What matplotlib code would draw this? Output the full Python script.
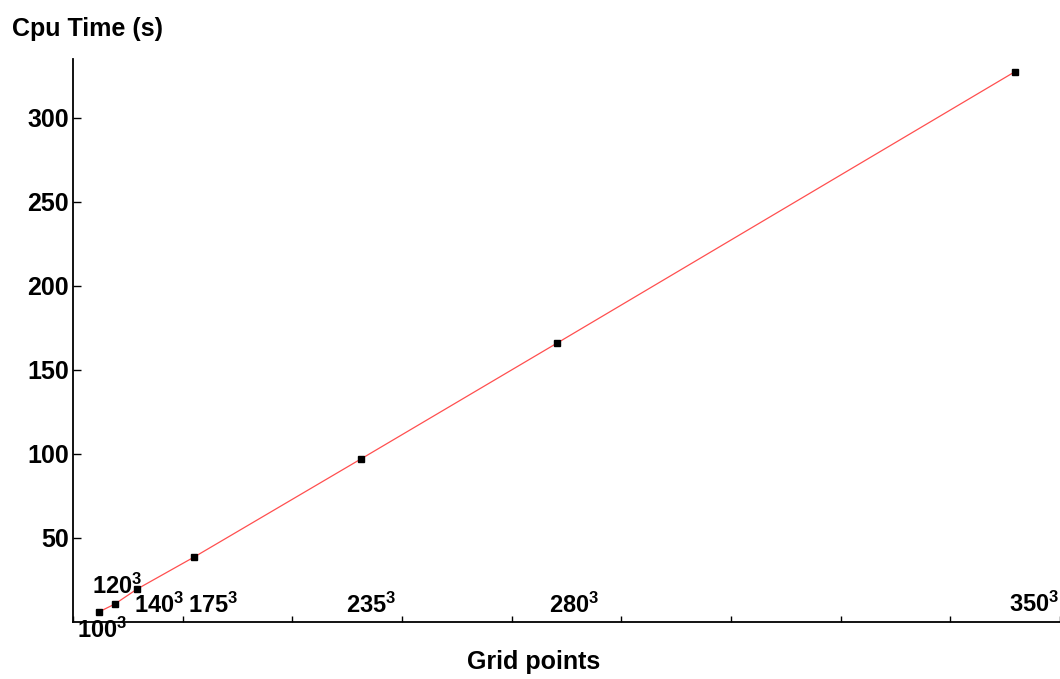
import matplotlib
matplotlib.use('Agg')
import matplotlib.pyplot as plt
import numpy as np

# grid sizes (n per side) and measured cpu time in seconds
grid_n = [100, 120, 140, 175, 235, 280, 350]
cpu_time = [6.0, 10.7, 19.6, 38.7, 97.0, 166.0, 327.4]

# label text offsets from (x, 0) in pixels
label_dx = [-22, -23, -3, -6, -15, -8, -6]
label_dy = [-16, 28, 9, 9, 9, 9, 10]

plt.rcParams['font.family'] = 'Liberation Sans'
plt.rcParams['font.weight'] = 'bold'
plt.rcParams['mathtext.fontset'] = 'custom'
plt.rcParams['mathtext.rm'] = 'Liberation Sans:bold'
plt.rcParams['mathtext.default'] = 'rm'


def main():
    # grid points in millions
    x = np.array(grid_n, dtype=float) ** 3 / 1e6

    fig = plt.figure(figsize=(10.6, 6.79), dpi=100)
    ax = fig.add_axes([73 / 1060, 1 - 622 / 679, 1 - 73 / 1060, (622 - 59) / 679])

    ax.plot(x, cpu_time, color='#ff4f4f', lw=0.9, zorder=2)
    ax.plot(x, cpu_time, 's', color='black', ms=4, zorder=3)

    for xi, n, dx, dy in zip(x, grid_n, label_dx, label_dy):
        ax.annotate(f'{n}$^{{3}}$', xy=(xi, 0), xytext=(dx, dy),
                    textcoords='offset pixels', ha='left', va='baseline',
                    fontsize=17, fontweight='bold', annotation_clip=False)

    # axis scale
    ax.set_xlim(-0.185, 44.80)
    ax.set_ylim(0, 335)
    ax.set_xticks(np.arange(-0.185, 45, 5.014))
    ax.set_xticklabels([])
    ax.set_yticks([50, 100, 150, 200, 250, 300])
    ax.tick_params(axis='y', direction='in', length=6, width=1, labelsize=18, pad=3)
    ax.tick_params(axis='x', direction='in', length=4, width=1)
    for lbl in ax.get_yticklabels():
        lbl.set_fontweight('bold')

    for side in ['top', 'right']:
        ax.spines[side].set_visible(False)
    for side in ['left', 'bottom']:
        ax.spines[side].set_linewidth(1.3)

    fig.text(12 / 1060, 1 - 36 / 679, 'Cpu Time (s)', fontsize=18, fontweight='bold',
             ha='left', va='baseline')
    fig.text(534 / 1060, 1 - 669 / 679, 'Grid points', fontsize=18, fontweight='bold',
             ha='center', va='baseline')

    fig.savefig('out.png', dpi=100)


if __name__ == '__main__':
    main()
